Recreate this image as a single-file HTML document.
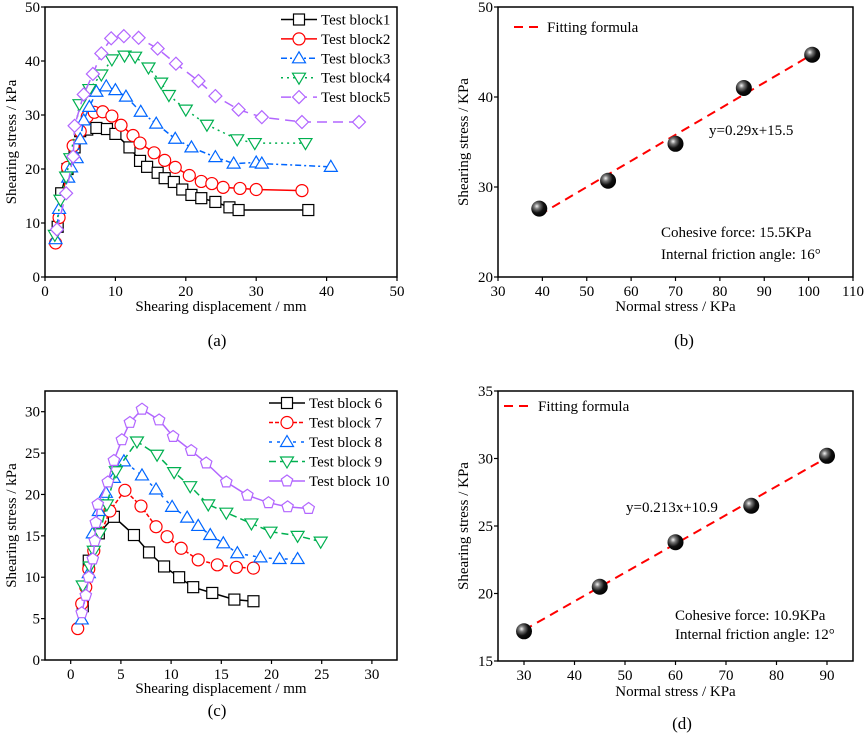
<!DOCTYPE html>
<html><head><meta charset="utf-8"><style>
body{margin:0;background:#fff;}
svg{display:block;font-family:"Liberation Serif",serif;}
</style></head><body>
<svg id="fig" width="865" height="736" viewBox="0 0 865 736" xmlns="http://www.w3.org/2000/svg">
<defs>
<radialGradient id="ball" cx="0.35" cy="0.35" r="0.7">
<stop offset="0" stop-color="#f4f4f4"/><stop offset="0.25" stop-color="#777"/><stop offset="0.6" stop-color="#111"/><stop offset="1" stop-color="#000"/>
</radialGradient>
</defs>
</svg>
<script>
// ---- Panel (a) data ----
const aNames=["Test block1","Test block2","Test block3","Test block4","Test block5"];
const aBlock1=[[1.8,9.3],[2.3,15.5],[3.2,20],[4.2,24],[5,27],[6,27.3],[7.3,27.6],[8.8,27.4],[10,26.5],[12,24],[13.5,21.5],[14.5,20.4],[16,19.3],[17,18.3],[18.3,17.6],[19.5,16.2],[20.8,15.2],[22.2,14.6],[24.2,13.9],[26.2,12.9],[27.5,12.4],[37.4,12.4]];
const aBlock2=[[1.5,6.3],[2,11],[3.2,20.3],[4,24.3],[5,27],[6,29.7],[7,30.5],[8.2,30.6],[9.5,29.8],[10.8,28.1],[12.5,26.2],[13.5,24.8],[15.5,23],[17,21.6],[18.5,20.3],[20.5,18.8],[22.2,17.7],[23.7,17.3],[25.3,16.6],[27.7,16.4],[30,16.2],[36.5,16]];
const aBlock3=[[1.5,7],[2,12.6],[3.3,18.4],[3.7,20.3],[4.5,22],[5,25.5],[5.5,29],[6.3,31.5],[7.3,34.3],[8.7,35.3],[10,34.6],[11.5,33.4],[13.6,30.6],[15.8,28.4],[18.5,25.6],[20.8,24],[24.2,22.2],[26.8,21],[30,21.2],[30.8,21],[40.6,20.4]];
const aBlock4=[[1.4,7.8],[2.2,14.3],[3,18.6],[3.6,22],[4.9,32],[6.3,34.8],[8,37.5],[9.5,40.3],[11.3,41],[12.8,40.8],[14.7,38.8],[16.5,36],[17.6,33.7],[20,31],[23,28.2],[27.3,25.5],[29.8,24.8],[37,24.8]];
const aBlock5=[[1.7,8.8],[3,15.5],[4,22.3],[4.2,28],[5.5,33.8],[6.8,37.6],[8,41.4],[9.4,44.2],[11.2,44.6],[13.3,44.3],[16,42.3],[18.6,39.5],[21.8,36.3],[24.2,33.5],[27.5,31],[30.8,29.6],[36.5,28.7],[44.6,28.7]];
const aXTicks=[0,10,20,30,40,50];
const aYTicks=[0,10,20,30,40,50];
// ---- Panel (b) data ----
const bX=[39.3,54.8,70,85.4,100.8];
const bY=[27.6,30.7,34.8,41,44.7];
const bSlope=0.29, bIntercept=15.5;
const bXTicks=[30,40,50,60,70,80,90,100,110];
const bYTicks=[20,30,40,50];
// ---- Panel (c) data ----
const cNames=["Test block 6","Test block 7","Test block 8","Test block 9","Test block 10"];
const cBlock6=[[1.2,6.5],[1.8,12],[2.8,15.3],[4.3,17.3],[6.3,15.1],[7.8,13],[9.3,11.3],[10.8,10],[12.2,8.8],[14.1,8.1],[16.3,7.3],[18.2,7.1]];
const cBlock7=[[0.7,3.8],[1.1,6.8],[1.5,8.8],[1.8,11],[2.3,13.2],[3.9,18],[5.4,20.5],[7,18.6],[8.5,16.1],[9.6,14.9],[11,13.5],[12.7,12.1],[14.6,11.5],[16.5,11.2],[18.2,11.1]];
const cBlock8=[[1.1,4.9],[1.8,10.5],[2.2,15.3],[2.8,18],[3.5,20.2],[4.3,22],[5.3,24],[7.1,22.3],[8.5,20.6],[10.1,18.5],[11.6,17.2],[12.7,16.2],[13.9,15.1],[15.2,14.1],[16.6,12.9],[18.9,12.4],[20.8,12.2],[22.6,12.2]];
const cBlock9=[[1.2,9],[1.9,11.3],[2.3,13.2],[2.9,15.3],[3.6,18.8],[4.5,22.8],[6.6,26.4],[8.6,24.8],[10.3,22.7],[11.9,21],[13.7,18.8],[15.5,17.8],[18,16.5],[19.9,15.5],[22.6,15],[24.9,14.3]];
const cBlock10=[[1.1,5.7],[1.5,7.8],[1.8,10],[2.2,12.2],[2.4,14.4],[2.5,16.6],[2.7,18.8],[3.7,21.5],[4.3,24.1],[5.1,26.6],[5.9,28.7],[7.1,30.3],[8.8,29],[10.2,27],[12,25.3],[13.5,23.8],[15.5,21.5],[17.6,19.9],[19.7,19],[21.6,18.5],[23.7,18.3]];
const cXTicks=[0,5,10,15,20,25,30];
const cYTicks=[0,5,10,15,20,25,30];
// ---- Panel (d) data ----
const dX=[30,45,60,75,90];
const dY=[17.2,20.5,23.8,26.5,30.2];
const dSlope=0.213, dIntercept=10.9;
const dXTicks=[30,40,50,60,70,80,90];
const dYTicks=[15,20,25,30,35];

const NS="http://www.w3.org/2000/svg";
const svg=document.getElementById('fig');
function mk(tag,attrs,parent,text){const e=document.createElementNS(NS,tag);for(const k in attrs)e.setAttribute(k,attrs[k]);if(text!==undefined)e.textContent=text;(parent||svg).appendChild(e);return e;}

function panel(id,L,R,T,B,x0,x1,y0,y1,xt,yt,xtitle,ytitle,xtY,ytX,letX,letY){
  const g=mk('g',{});
  
  
  const sx=v=>L+(v-x0)/(x1-x0)*(R-L), sy=v=>B-(v-y0)/(y1-y0)*(B-T);
  const fr=mk('rect',{x:L,y:T,width:R-L,height:B-T,fill:'none',stroke:'#000','stroke-width':1.5},g);
  
  
  xt.forEach(v=>{const x=sx(v);mk('line',{x1:x,x2:x,y1:B,y2:B+4,stroke:'#000','stroke-width':1.2},g);
    const t=mk('text',{x:x,y:B+19,'text-anchor':'middle','font-size':15},g,String(v));
    
    });
  yt.forEach(v=>{const y=sy(v);mk('line',{x1:L-4,x2:L,y1:y,y2:y,stroke:'#000','stroke-width':1.2},g);
    const t=mk('text',{x:L-5,y:y+5,'text-anchor':'end','font-size':15},g,String(v));
    
    });
  const xl=mk('text',{x:(L+R)/2,y:xtY,'text-anchor':'middle','font-size':15},g,xtitle);
  
  
  const cy=(T+B)/2;
  const yl=mk('text',{x:ytX,y:cy,'text-anchor':'middle','font-size':15,transform:`rotate(-90 ${ytX} ${cy})`},g,ytitle);
  
  
  const lt=mk('text',{x:letX,y:letY,'text-anchor':'middle','font-size':17},svg,'('+id+')');
  
  
  return {g,sx,sy};
}

function marker(shape,x,y,color,parent){
  const s=5.5;let e;
  const a={fill:'#fff',stroke:color,'stroke-width':1.2};
  if(shape==='square')e=mk('rect',Object.assign({x:x-s,y:y-s,width:2*s,height:2*s},a),parent);
  else if(shape==='circle')e=mk('circle',Object.assign({cx:x,cy:y,r:s+0.5},a),parent);
  else if(shape==='up')e=mk('polygon',Object.assign({points:`${x},${y-s-1} ${x-s-1},${y+s-1} ${x+s+1},${y+s-1}`},a),parent);
  else if(shape==='down')e=mk('polygon',Object.assign({points:`${x},${y+s+1} ${x-s-1},${y-s+1} ${x+s+1},${y-s+1}`},a),parent);
  else if(shape==='diamond')e=mk('polygon',Object.assign({points:`${x},${y-s-1} ${x+s+1},${y} ${x},${y+s+1} ${x-s-1},${y}`},a),parent);
  else {let p=[];for(let i=0;i<5;i++){const ang=-Math.PI/2+i*2*Math.PI/5;p.push((x+(s+0.5)*Math.cos(ang)).toFixed(1)+','+(y+(s+0.5)*Math.sin(ang)).toFixed(1));}
    e=mk('polygon',Object.assign({points:p.join(' ')},a),parent);}
  
  
}

function series(P,pts,color,dash,shape,name){
  const g=mk('g',{},P.g);
  
  
  const d=pts.map((p,i)=>(i?'L':'M')+P.sx(p[0]).toFixed(1)+' '+P.sy(p[1]).toFixed(1)).join(' ');
  mk('path',{d:d,fill:'none',stroke:color,'stroke-width':1.5,'stroke-dasharray':dash},g);
  pts.forEach(p=>marker(shape,P.sx(p[0]),P.sy(p[1]),color,g));
}
function legendEntry(x,y,name,color,dash,shape,tx){
  const g=mk('g',{});
  
  
  mk('line',{x1:x,x2:x+36,y1:y,y2:y,stroke:color,'stroke-width':1.5,'stroke-dasharray':dash},g);
  marker(shape,x+18,y,color,g);
  mk('text',{x:tx,y:y+5,'font-size':15},g,name);
}

const colors=['#000000','#ff0000','#0066ff','#00b050','#b266ff'];
const dashesA=['none','none','6 3 2 3','2 4','10 6'];
const dashesC=['none','4 2','3 5','7 4','none'];
const shapesA=['square','circle','up','down','diamond'];
const shapesC=['square','circle','up','down','pentagon'];

// Panel a
const A=panel('a',45,397,7,277,0,50,0,50,aXTicks,aYTicks,'Shearing displacement / mm','Shearing stress / kPa',311,16,217,346);
[aBlock1,aBlock2,aBlock3,aBlock4,aBlock5].forEach((s,i)=>series(A,s,colors[i],dashesA[i],shapesA[i],aNames[i]));
aNames.forEach((n,i)=>legendEntry(281,19.5+i*19.4,n,colors[i],dashesA[i],shapesA[i],321));

// Panel c
const C=panel('c',45,397,391,660,-2.56,32.5,0,32.5,cXTicks,cYTicks,'Shearing displacement / mm','Shearing stress / kPa',693,16,217,716);
[cBlock6,cBlock7,cBlock8,cBlock9,cBlock10].forEach((s,i)=>series(C,s,colors[i],dashesC[i],shapesC[i],cNames[i]));
cNames.forEach((n,i)=>legendEntry(269,403+i*19.5,n,colors[i],dashesC[i],shapesC[i],309));

function fitPanel(P,X,Y,m,b,id){
  const x0=X[0],x1=X[X.length-1];
  const ln=mk('line',{x1:P.sx(x0),y1:P.sy(m*x0+b),x2:P.sx(x1),y2:P.sy(m*x1+b),stroke:'#ff0000','stroke-width':2,'stroke-dasharray':'9 6'},P.g);
  
  
  X.forEach((x,i)=>{const c=mk('circle',{cx:P.sx(x),cy:P.sy(Y[i]),r:8,fill:'url(#ball)'},P.g);
    
    });
}
// Panel b
const Bp=panel('b',498,853,7,277,30,110,20,50,bXTicks,bYTicks,'Normal stress / KPa','Shearing stress / KPa',311,468,684,346);
fitPanel(Bp,bX,bY,bSlope,bIntercept,'b');
mk('line',{x1:514,x2:541,y1:27,y2:27,stroke:'#ff0000','stroke-width':2,'stroke-dasharray':'9 6'});
mk('text',{x:547,y:32,'font-size':15},svg,'Fitting formula');
mk('text',{x:709,y:135,'font-size':15},svg,'y=0.29x+15.5');
mk('text',{x:661,y:237,'font-size':15},svg,'Cohesive force: 15.5KPa');
mk('text',{x:661,y:259,'font-size':15},svg,'Internal friction angle: 16°');

// Panel d
const D=panel('d',498,853,391,661,24.85,95.15,15,35,dXTicks,dYTicks,'Normal stress / KPa','Shearing stress / KPa',696,468,682,729);
fitPanel(D,dX,dY,dSlope,dIntercept,'d');
mk('line',{x1:504,x2:531,y1:406,y2:406,stroke:'#ff0000','stroke-width':2,'stroke-dasharray':'9 6'});
mk('text',{x:538,y:411,'font-size':15},svg,'Fitting formula');
mk('text',{x:626,y:512,'font-size':15},svg,'y=0.213x+10.9');
mk('text',{x:675,y:620,'font-size':15},svg,'Cohesive force: 10.9KPa');
mk('text',{x:675,y:639,'font-size':15},svg,'Internal friction angle: 12°');
</script>
</body></html>
